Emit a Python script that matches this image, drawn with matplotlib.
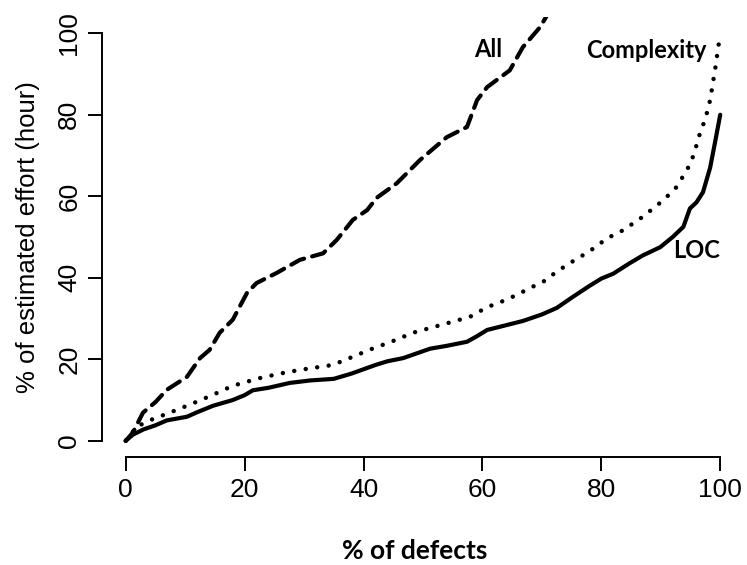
import matplotlib
matplotlib.use("Agg")
import matplotlib.pyplot as plt

loc_x = [0, 1.2, 3, 5, 6.9, 10.3, 12, 14.7, 18, 20, 21.4, 24, 27.6, 31, 35, 38, 42, 44, 46.7,
         51.2, 54, 57.4, 59, 60.8, 63, 66.8, 70, 72.5, 75.2, 78, 80, 82, 84.8, 87, 89.9, 92,
         93.8, 94.9, 96, 97.1, 98.3, 99.2, 100]
loc_y = [0, 1.5, 2.8, 3.8, 5.0, 5.9, 7, 8.6, 10, 11.2, 12.4, 13, 14.2, 14.8, 15.2, 16.5, 18.6,
         19.5, 20.3, 22.6, 23.3, 24.3, 25.6, 27.2, 28, 29.4, 31, 32.6, 35.3, 38, 39.8, 41,
         43.6, 45.5, 47.5, 50, 52.5, 57, 58.5, 61, 67, 73.8, 80]

cx_x = [0, 1.8, 4, 7.4, 11, 14.7, 18, 22.6, 26, 29.3, 34.8, 38, 41.3, 45, 48.3, 52, 55.7, 58,
        60.8, 63, 65.8, 68, 70.2, 72.5, 74.7, 78, 81, 83.7, 87, 90.4, 92.5, 94.4, 95.5, 96.6,
        97.5, 98.3, 99.2, 100]
cx_y = [0, 3.4, 5, 6.9, 9, 11.3, 13.5, 15.4, 16.5, 17.4, 18.6, 20.5, 22.5, 24.5, 26.5, 28,
        29.5, 30.5, 32.8, 34, 35.8, 37.5, 39, 41.5, 43.6, 46.5, 49.7, 51.7, 55, 59, 62, 66.4,
        70, 75.5, 79, 83.6, 91.7, 100]

all_x = [0, 1.2, 2.9, 5, 6.9, 10.3, 12.5, 14.1, 15.8, 18, 20.4, 22, 25.4, 29.3, 33.2, 35.5,
         38.2, 40.6, 42.2, 45.6, 49.5, 54, 57.4, 59.1, 60.8, 64.6, 66.8, 69.7, 71.5]
all_y = [0, 2, 6.9, 9.5, 12.5, 15.7, 20.3, 22.3, 26.5, 29.7, 36.3, 38.7, 41.2, 44.4, 46, 49.3,
         54.2, 56.6, 59.6, 63.2, 68.9, 74.5, 77, 83.6, 86.8, 90.9, 96.6, 101.5, 106]

x_ticks = [0, 20, 40, 60, 80, 100]
y_ticks = [0, 20, 40, 60, 80, 100]

fig = plt.figure(figsize=(7.47, 5.65), dpi=100)
ax = fig.add_axes([0.1365, 0.191, 0.8595, 0.779])

ax.plot(loc_x, loc_y, color="black", lw=3, solid_capstyle="round", solid_joinstyle="round")
ax.plot(cx_x, cx_y, color="black", lw=3.2, dashes=(0.01, 2.6), dash_capstyle="round")
ax.plot(all_x, all_y, color="black", lw=3, dashes=(3.4, 2.0), dash_capstyle="round")

ax.set_xlim(-4, 104)
ax.set_ylim(-4, 104)

for s in ["top", "right"]:
    ax.spines[s].set_visible(False)
ax.spines["left"].set_bounds(0, 100)
ax.spines["bottom"].set_bounds(0, 100)
ax.spines["left"].set_linewidth(1.4)
ax.spines["bottom"].set_linewidth(1.4)

ax.set_xticks(x_ticks)
ax.set_yticks(y_ticks)
ax.tick_params(axis="both", length=10, width=1.4, labelsize=19, pad=5)
ax.set_xticklabels([str(t) for t in x_ticks], family="Liberation Sans")
ax.set_yticklabels([str(t) for t in y_ticks], family="Liberation Sans", rotation=90, va="center")

ax.set_ylabel("% of estimated effort (hour)", family="Liberation Sans", fontsize=18.5, labelpad=12)
fig.text(0.555, 0.024, "% of defects", family="Lato", fontweight="bold", fontsize=19,
         ha="center", va="center")

ax.text(61, 96, "All", family="Lato", fontweight="bold", fontsize=17, ha="center", va="center")
ax.text(87.6, 95.8, "Complexity", family="Lato", fontweight="bold", fontsize=17, ha="center", va="center")
ax.text(100, 46.8, "LOC", family="Lato", fontweight="bold", fontsize=17, ha="right", va="center")

fig.savefig("out.png", dpi=100)
